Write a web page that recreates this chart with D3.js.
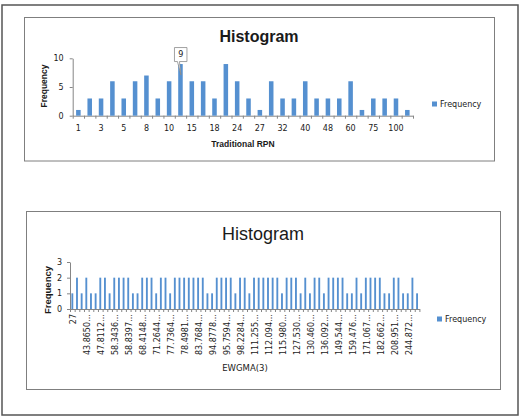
<!DOCTYPE html>
<html>
<head>
<meta charset="utf-8">
<script src="https://cdn.jsdelivr.net/npm/d3@7"></script>
<style>
  body { margin: 0; background: #fff; }
  svg text { font-family: "DejaVu Sans", sans-serif; fill: #1a1a1a; }
  .axis path, .axis line { stroke: #868686; }
</style>
</head>
<body>
<div id="chart"></div>
<script>
// top histogram (Traditional RPN) - only every 2nd category label is shown
const rpnTickLabels = ["1", "3", "5", "8", "10", "15", "18", "24", "27", "32", "40", "48", "60", "75", "100"];
const rpnFrequency = [1, 3, 3, 6, 3, 6, 7, 3, 6, 9, 6, 6, 3, 9, 6, 3, 1, 6, 3, 3, 6, 3, 3, 3, 6, 1, 3, 3, 3, 1];

// bottom histogram (EWGMA(3)) - every 3rd category label is shown
const ewgmaTickLabels = ["27", "43.8650…", "47.8112…", "58.3436…", "58.8397…", "68.4148…", "71.2644…",
    "77.7364…", "78.4981…", "83.7684…", "94.8778…", "95.7594…", "98.2284…", "111.255…", "112.094…",
    "115.980…", "127.530…", "130.460…", "136.092…", "149.544…", "159.476…", "171.067…", "182.662…",
    "208.951…", "244.872…"];
const ewgmaFrequency = [1, 2, 1, 2, 1, 1, 2, 2, 1, 2, 2, 2, 2, 1, 1, 2, 2, 2, 1, 2, 2, 1, 2, 2, 2,
    2, 2, 2, 2, 1, 1, 2, 2, 2, 2, 1, 2, 2, 1, 2, 2, 2, 2, 2, 2, 1, 2, 2, 2, 1, 2, 1, 2, 2, 1,
    2, 2, 2, 2, 1, 1, 2, 1, 2, 2, 2, 2, 1, 1, 2, 2, 1, 1, 2, 1];

const width = 523;
const height = 416;
const barColor = "#5590d0";

const svg = d3.select("#chart")
    .append("svg")
    .attr("width", width)
    .attr("height", height)
    .attr("viewBox", [0, 0, width, height]);

// page frame
svg.append("rect")
    .attr("x", 2).attr("y", 5)
    .attr("width", 516).attr("height", 410)
    .attr("fill", "none")
    .attr("stroke", "#555")
    .attr("stroke-width", 1.5);

function histogram(o) {
    const g = svg.append("g");

    g.append("rect")
        .attr("x", o.box[0]).attr("y", o.box[1])
        .attr("width", o.box[2]).attr("height", o.box[3])
        .attr("fill", "#fff")
        .attr("stroke", "#7f7f7f");

    g.append("text")
        .attr("x", o.titlePos[0]).attr("y", o.titlePos[1])
        .attr("text-anchor", "middle")
        .attr("font-size", o.titleSize)
        .attr("font-weight", o.titleWeight)
        .style("font-family", "'Liberation Sans', Arial, sans-serif")
        .text("Histogram");

    const n = o.values.length;
    const x = d3.scaleBand(d3.range(n), [o.left, o.right]);
    const edge = d3.scaleLinear([0, n], [o.left, o.right]);
    const y = d3.scaleLinear([0, o.yMax], [o.bottom, o.top]);

    // y axis
    g.append("g")
        .attr("class", "axis")
        .attr("transform", `translate(${o.left},0)`)
        .call(d3.axisLeft(y).tickValues(o.yTicks).tickFormat(d3.format("d"))
            .tickSize(3).tickSizeOuter(0).tickPadding(o.yPad))
        .call(a => a.selectAll("text").attr("font-size", 8).attr("fill", "#1a1a1a")
            .style("font-family", "'DejaVu Sans', sans-serif"));

    // x axis, tick marks between categories
    g.append("g")
        .attr("class", "axis")
        .attr("transform", `translate(0,${o.bottom})`)
        .call(d3.axisBottom(edge).tickValues(d3.range(n + 1)).tickSize(3).tickSizeOuter(0).tickFormat(""));

    g.append("g")
        .selectAll("rect")
        .data(o.values)
        .join("rect")
        .attr("x", (d, i) => x(i) + x.bandwidth() * 0.3)
        .attr("width", x.bandwidth() * 0.4)
        .attr("y", d => y(d))
        .attr("height", d => y(0) - y(d))
        .attr("fill", barColor);

    // category labels (Excel skips some)
    const shown = o.values.map((d, i) => i).filter(i => i % o.labelEvery === 0);
    const lab = g.append("g")
        .selectAll("text")
        .data(shown)
        .join("text")
        .attr("font-size", 8)
        .text(i => o.labels[i / o.labelEvery]);
    if (o.rotate) {
        lab.attr("transform", i => `translate(${x(i) + x.bandwidth() / 2 + 1},${o.bottom + 5}) rotate(-90)`)
            .attr("text-anchor", "end")
            .attr("dy", "0.35em");
    } else {
        lab.attr("x", i => x(i) + x.bandwidth() / 2)
            .attr("y", o.bottom + 15)
            .attr("text-anchor", "middle");
    }

    // axis titles
    g.append("text")
        .attr("transform", `translate(${o.yTitle[0]},${o.yTitle[1]}) rotate(-90)`)
        .attr("text-anchor", "middle")
        .attr("dy", "0.35em")
        .attr("font-size", o.yTitleSize)
        .attr("font-weight", "bold")
        .style("font-family", "'Liberation Sans', Arial, sans-serif")
        .text("Frequency");

    g.append("text")
        .attr("x", o.xTitle[0]).attr("y", o.xTitle[1])
        .attr("text-anchor", "middle")
        .attr("dy", "0.35em")
        .attr("font-size", o.xTitleSize)
        .attr("font-weight", o.xTitleWeight)
        .style("font-family", o.xTitleFont)
        .text(o.xTitleText);

    // legend
    g.append("rect")
        .attr("x", o.legend[0]).attr("y", o.legend[1] - 2.5)
        .attr("width", 5).attr("height", 5)
        .attr("fill", barColor);
    g.append("text")
        .attr("x", o.legend[0] + 8).attr("y", o.legend[1])
        .attr("dy", "0.35em")
        .attr("font-size", 8)
        .text("Frequency");

    // data callout
    if (o.callout != null) {
        const i = o.callout;
        const ax = x(i) + x.bandwidth() / 2;
        const ay = y(o.values[i]);
        const L = ax - 6, R = ax + 6.5, T = ay - 16.5, B = ay - 2.5;
        g.append("path")
            .attr("d", `M${L},${T}H${R}V${B}H${ax - 1}L${ax + 0.5},${ay + 11}L${ax - 3},${B}H${L}Z`)
            .attr("fill", "#fff")
            .attr("stroke", "#8a8a8a")
            .attr("stroke-width", 0.8);
        g.append("text")
            .attr("x", (L + R) / 2).attr("y", (T + B) / 2)
            .attr("dy", "0.35em")
            .attr("text-anchor", "middle")
            .attr("font-size", 8)
            .text(o.values[i]);
    }
}

histogram({
    box: [24.5, 17.5, 470, 143.5],
    titlePos: [259, 42], titleSize: 16, titleWeight: "bold",
    values: rpnFrequency, labels: rpnTickLabels, labelEvery: 2, rotate: false,
    left: 72.7, right: 413, top: 58.3, bottom: 115.7,
    yMax: 10, yTicks: [0, 5, 10], yPad: 6,
    yTitle: [44, 86], yTitleSize: 8.5,
    xTitle: [243, 144], xTitleSize: 8.5, xTitleWeight: "bold",
    xTitleFont: "'Liberation Sans', Arial, sans-serif", xTitleText: "Traditional RPN",
    legend: [432, 104],
    callout: 9
});

histogram({
    box: [26.5, 211.5, 474, 178],
    titlePos: [263, 240], titleSize: 18, titleWeight: "normal",
    values: ewgmaFrequency, labels: ewgmaTickLabels, labelEvery: 3, rotate: true,
    left: 70, right: 419.4, top: 262, bottom: 309,
    yMax: 3, yTicks: [0, 1, 2, 3], yPad: 5,
    yTitle: [47.7, 290], yTitleSize: 9.5,
    xTitle: [245, 368], xTitleSize: 8.5, xTitleWeight: "normal",
    xTitleFont: "'DejaVu Sans', sans-serif", xTitleText: "EWGMA(3)",
    legend: [437, 319],
    callout: null
});
</script>
</body>
</html>
